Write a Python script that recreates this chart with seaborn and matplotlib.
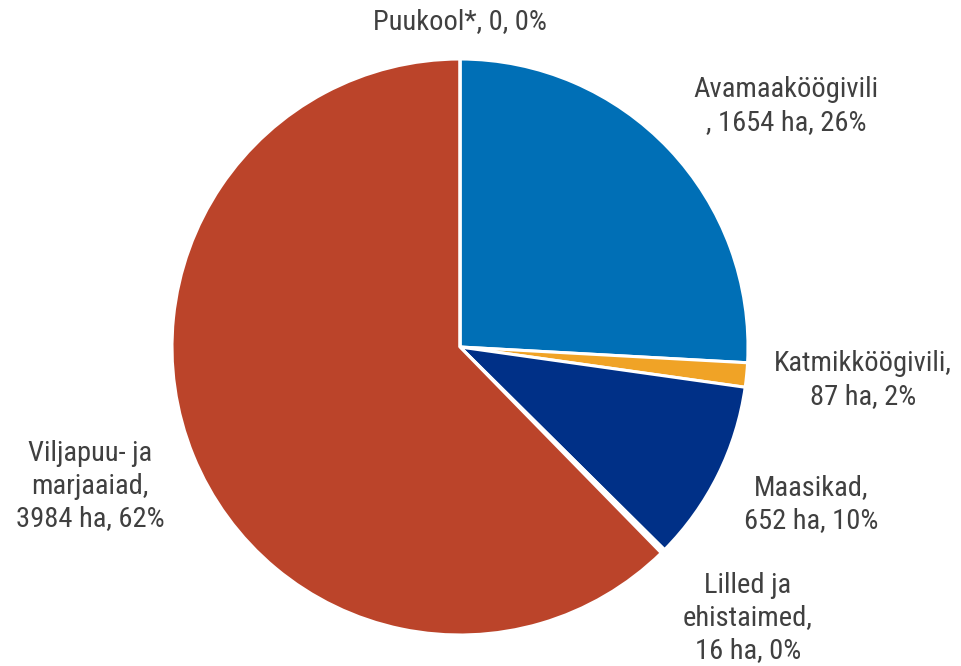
import numpy as np
import pandas as pd
import matplotlib
matplotlib.use('Agg')
import matplotlib.pyplot as plt
import seaborn as sns

# data
categories = ['Avamaaköögivili', 'Katmikköögivili', 'Maasikad',
              'Lilled ja ehistaimed', 'Viljapuu- ja marjaaiad', 'Puukool*']
areas = [1654, 87, 652, 16, 3984, 0]
labels = ['Avamaaköögivili\n, 1654 ha, 26%',
          'Katmikköögivili,\n87 ha, 2%',
          'Maasikad,\n652 ha, 10%',
          'Lilled ja\nehistaimed,\n16 ha, 0%',
          'Viljapuu- ja\nmarjaaiad,\n3984 ha, 62%',
          'Puukool*, 0, 0%']
colors = ['#006fb6', '#f0a326', '#003087', '#ffffff', '#bb442a', '#7f7f7f']

df = pd.DataFrame({'category': categories, 'area': areas, 'label': labels})

sns.set_style('white')
plt.rcParams['font.family'] = ['Roboto Condensed', 'Liberation Sans Narrow', 'Roboto', 'DejaVu Sans']

fig = plt.figure(figsize=(9.62, 6.66), dpi=100)
ax = fig.add_axes([0, 0, 1, 1])
ax.set_xlim(0, 962)
ax.set_ylim(0, 666)
ax.set_aspect('equal')
ax.axis('off')

wedges, _ = ax.pie(df['area'], colors=colors, startangle=90, counterclock=False,
                   center=(460, 319), radius=288,
                   wedgeprops=dict(edgecolor='white', linewidth=2.2))
ax.set_xlim(0, 962)
ax.set_ylim(0, 666)

# label positions (pixels from top-left)
label_pos = [(786, 106), (863, 380), (811, 504), (748, 618), (90, 486), (460, 22)]
for lab, (x, y) in zip(df['label'], label_pos):
    ax.text(x, 666 - y, lab, ha='center', va='center', fontsize=20.5,
            color='#404040', linespacing=1.28)

fig.savefig('out.png', dpi=100)
